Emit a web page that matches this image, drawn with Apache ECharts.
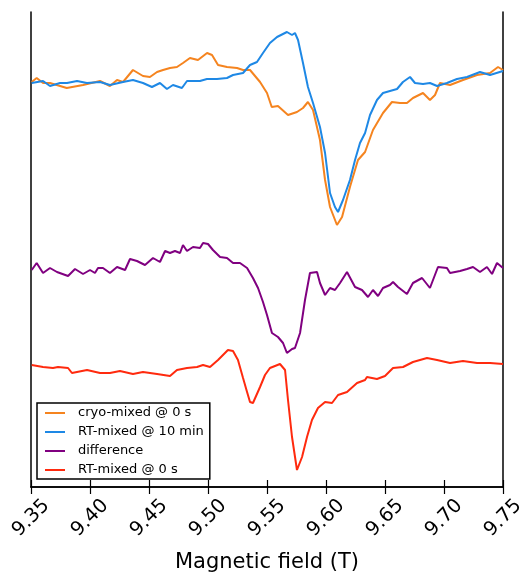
<!DOCTYPE html>
<html>
<head>
<meta charset="utf-8">
<script src="https://cdn.jsdelivr.net/npm/echarts@6/dist/echarts.min.js"></script>
<style>html,body{margin:0;padding:0;background:#fff}#c{width:525px;height:576px}</style>
</head>
<body>
<div id="c"></div>
<script>
// Magnetic field (T) and signal (arbitrary units, offset traces)
const cryoX = [9.3506,9.3548,9.3602,9.3661,9.3803,9.3941,9.4085,9.4169,9.4229,9.4280,9.4364,9.4449,9.4508,9.4568,9.4619,9.4678,9.4737,9.4788,9.4847,9.4915,9.4992,9.5034,9.5085,9.5161,9.5246,9.5297,9.5356,9.5441,9.5500,9.5540,9.5593,9.5678,9.5754,9.5805,9.5847,9.5890,9.5949,9.5992,9.6034,9.6093,9.6136,9.6203,9.6271,9.6331,9.6398,9.6483,9.6559,9.6627,9.6686,9.6737,9.6822,9.6881,9.6924,9.6966,9.7051,9.7161,9.7280,9.7390,9.7458,9.7500];
const cryoY = [405,409,404,404,399,402,406,401,407,405,417,411,410,415,417,419,420,424,429,427,434,432,422,420,419,417,417,405,394,380,381,372,375,379,385,377,347,307,280,262,270,300,327,335,357,374,385,384,384,389,394,387,392,404,402,407,412,414,420,417];

const rt10X = [9.3506,9.3602,9.3661,9.3746,9.3805,9.3890,9.3974,9.4085,9.4169,9.4280,9.4364,9.4449,9.4525,9.4593,9.4652,9.4703,9.4779,9.4822,9.4932,9.4991,9.5076,9.5161,9.5212,9.5297,9.5356,9.5415,9.5466,9.5525,9.5585,9.5669,9.5712,9.5737,9.5763,9.5805,9.5847,9.5890,9.5949,9.5992,9.6034,9.6076,9.6102,9.6144,9.6203,9.6246,9.6288,9.6331,9.6373,9.6432,9.6483,9.6542,9.6602,9.6652,9.6712,9.6754,9.6822,9.6881,9.6941,9.7025,9.7110,9.7195,9.7305,9.7390,9.7500];
const rt10Y = [404,406,401,404,404,406,404,405,402,405,407,404,400,404,398,402,399,406,406,408,408,409,412,414,422,425,434,444,450,455,452,454,447,424,400,384,360,334,294,280,275,287,307,327,344,354,372,387,394,396,398,405,410,404,403,404,401,404,408,410,415,412,416];

const diffX = [9.3506,9.3548,9.3602,9.3661,9.3720,9.3814,9.3873,9.3941,9.4000,9.4042,9.4068,9.4110,9.4169,9.4229,9.4297,9.4339,9.4398,9.4466,9.4534,9.4593,9.4636,9.4678,9.4720,9.4763,9.4788,9.4822,9.4873,9.4932,9.4958,9.5000,9.5042,9.5102,9.5161,9.5212,9.5271,9.5331,9.5381,9.5424,9.5466,9.5500,9.5542,9.5593,9.5636,9.5669,9.5712,9.5737,9.5780,9.5822,9.5864,9.5924,9.5949,9.5992,9.6034,9.6076,9.6119,9.6178,9.6246,9.6305,9.6356,9.6398,9.6441,9.6483,9.6542,9.6568,9.6610,9.6686,9.6737,9.6814,9.6881,9.6949,9.7025,9.7051,9.7136,9.7195,9.7246,9.7305,9.7364,9.7407,9.7449,9.7500];
const diffY = [217,224,214,219,215,211,218,213,217,214,219,219,214,220,217,228,226,222,229,225,236,234,236,234,242,236,240,239,244,243,237,230,229,224,224,219,209,199,185,172,154,150,144,134,138,139,154,187,214,215,204,192,199,197,204,215,200,197,190,197,191,199,202,205,200,193,204,209,199,220,219,214,216,218,220,215,220,213,224,219];

const rt0X = [9.3506,9.3602,9.3686,9.3729,9.3814,9.3847,9.3975,9.4085,9.4169,9.4254,9.4364,9.4449,9.4568,9.4678,9.4737,9.4822,9.4907,9.4958,9.5017,9.5085,9.5169,9.5212,9.5254,9.5297,9.5331,9.5356,9.5381,9.5441,9.5483,9.5525,9.5610,9.5653,9.5678,9.5712,9.5754,9.5797,9.5839,9.5881,9.5932,9.5992,9.6051,9.6102,9.6178,9.6263,9.6331,9.6347,9.6432,9.6500,9.6568,9.6653,9.6737,9.6856,9.6941,9.7051,9.7161,9.7280,9.7390,9.7500];
const rt0Y = [122,120,119,120,119,114,117,114,114,116,113,115,113,111,117,119,120,122,120,127,137,136,127,109,95,85,84,100,112,119,123,117,87,50,17,30,50,67,79,85,84,92,95,104,107,110,108,111,119,120,125,129,127,124,126,124,124,123];

const seriesNames = ['cryo-mixed @ 0 s','RT-mixed @ 10 min','difference','RT-mixed @ 0 s'];
const xTicks = [9.35,9.40,9.45,9.50,9.55,9.60,9.65,9.70,9.75];

const colors = ['#F5841F','#1E88E5','#800080','#FF2A0E'];
const zip = (xs, ys) => xs.map((x, i) => [x, ys[i]]);
const datasets = [zip(cryoX, cryoY), zip(rt10X, rt10Y), zip(diffX, diffY), zip(rt0X, rt0Y)];

const chart = echarts.init(document.getElementById('c'), null, {renderer: 'canvas'});
const axisLine = {show: true, lineStyle: {color: '#000', width: 1.5}};
chart.setOption({
  animation: false,
  backgroundColor: '#fff',
  grid: {left: 31, right: 22, top: 12, bottom: 89, containLabel: false, outerBoundsMode: 'none'},
  legend: {
    orient: 'vertical', left: 37, top: 403,
    data: seriesNames,
    icon: 'rect',
    itemWidth: 20, itemHeight: 2, itemGap: 5,
    padding: [3, 6, 2, 8],
    borderColor: '#000', borderWidth: 1.5, borderRadius: 0,
    backgroundColor: '#fff',
    textStyle: {fontFamily: 'DejaVu Sans', fontSize: 13, lineHeight: 14, color: '#000', padding: [0, 0, 0, 8]}
  },
  xAxis: [{
    type: 'value', min: 9.35, max: 9.75, interval: 0.05,
    position: 'bottom',
    name: 'Magnetic field (T)', nameLocation: 'middle', nameGap: 65,
    nameTextStyle: {fontFamily: 'DejaVu Sans', fontSize: 21, color: '#000'},
    axisLine: axisLine,
    axisTick: {show: true, inside: true, length: 7, lineStyle: {color: '#000', width: 1.2}},
    axisLabel: {rotate: 45, align: 'center', verticalAlign: 'middle', fontFamily: 'DejaVu Sans', fontSize: 19.5, color: '#000', margin: 31,
      formatter: v => { const t = xTicks.find(k => Math.abs(k - v) < 1e-6); return t !== undefined ? t.toFixed(2) : ''; }},
    splitLine: {show: false}
  }, {
    type: 'value', min: 9.35, max: 9.75, interval: 0.05,
    position: 'top',
    axisLine: axisLine,
    axisTick: {show: true, inside: true, length: 7, lineStyle: {color: '#000', width: 1.2}},
    axisLabel: {show: false},
    splitLine: {show: false}
  }],
  yAxis: [{
    type: 'value', min: 0, max: 475, position: 'left',
    axisLine: axisLine, axisTick: {show: false}, axisLabel: {show: false}, splitLine: {show: false}
  }, {
    type: 'value', min: 0, max: 475, position: 'right',
    axisLine: axisLine, axisTick: {show: false}, axisLabel: {show: false}, splitLine: {show: false}
  }],
  series: seriesNames.map((n, i) => ({
    name: n, type: 'line', data: datasets[i], symbol: 'none', smooth: false,
    xAxisIndex: 0, yAxisIndex: 0,
    lineStyle: {color: colors[i], width: 2},
    itemStyle: {color: colors[i]}
  }))
});
</script>
</body>
</html>
